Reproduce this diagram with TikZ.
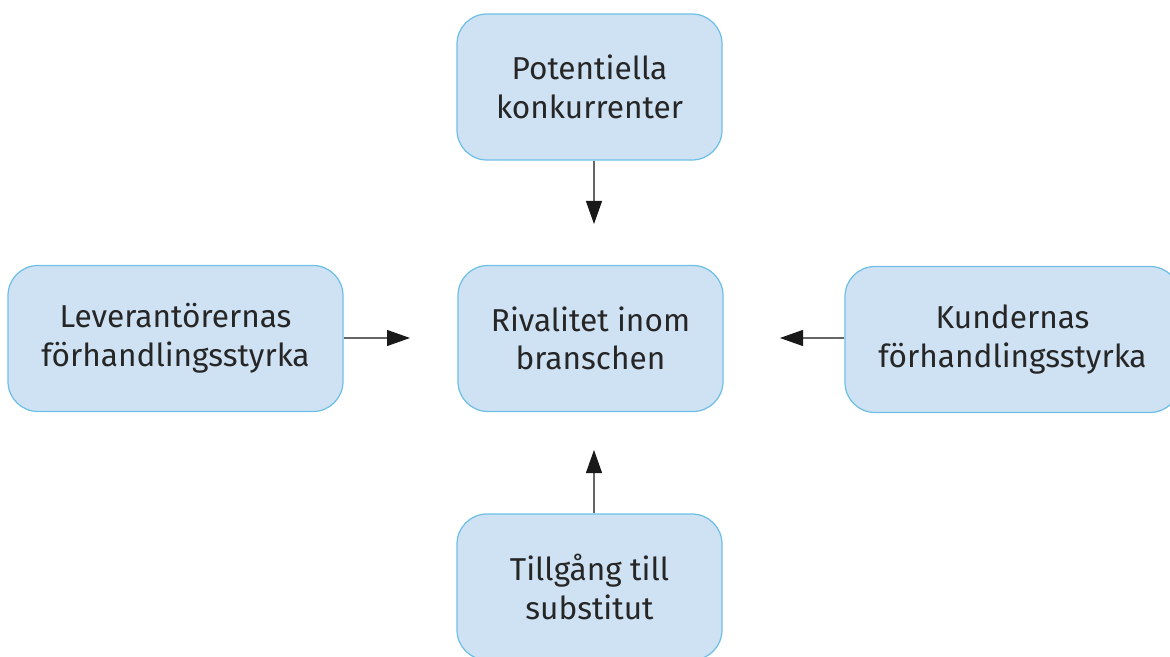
\documentclass[tikz,border=0pt]{standalone}
\usepackage{fontspec}
\setmainfont{Fira Sans}
\usepackage{tikz}
\usetikzlibrary{arrows.meta,positioning}
\definecolor{boxfill}{HTML}{CFE2F3}
\definecolor{boxline}{HTML}{6DBFE6}
\definecolor{arrowgray}{HTML}{666666}

\begin{document}
\begin{tikzpicture}[
        >={Triangle[length=4.6mm,width=3.2mm,color=black!90]},
        force/.style={draw=boxline,fill=boxfill,rounded corners=6mm,line width=0.7pt,
                      minimum width=5.3cm,minimum height=2.92cm,
                      font=\fontsize{18}{22}\selectfont,text=black!85},
        wide/.style={force,minimum width=6.7cm},
        link/.style={->,arrowgray,line width=0.6pt},
        every node/.style={align=center}
      ]
        \useasboundingbox (0,0) rectangle (23.4,-13.14);

        \node[force] (pk) at (11.79,-1.74) {Potentiella\\konkurrenter};
        \node[force] (rb) at (11.81,-6.77) {Rivalitet inom\\branschen};
        \node[wide] (lf) at (3.51,-6.77) {Leverantörernas\\förhandlingsstyrka};
        \node[wide] (kf) at (20.25,-6.79) {Kundernas\\förhandlingsstyrka};
        \node[force] (ts) at (11.79,-11.74) {Tillgång till\\substitut};

        \coordinate (pkend) at (11.88,-4.48);
        \coordinate (lfend) at (8.2,-6.76);
        \coordinate (kfend) at (15.6,-6.76);
        \coordinate (tsend) at (11.88,-9.0);

        \draw[link] (pkend |- pk.south) -- (pkend);
        \draw[link] (lfend -| lf.east) -- (lfend);
        \draw[link] (kfend -| kf.west) -- (kfend);
        \draw[link] (tsend |- ts.north) -- (tsend);
      \end{tikzpicture}
\end{document}
